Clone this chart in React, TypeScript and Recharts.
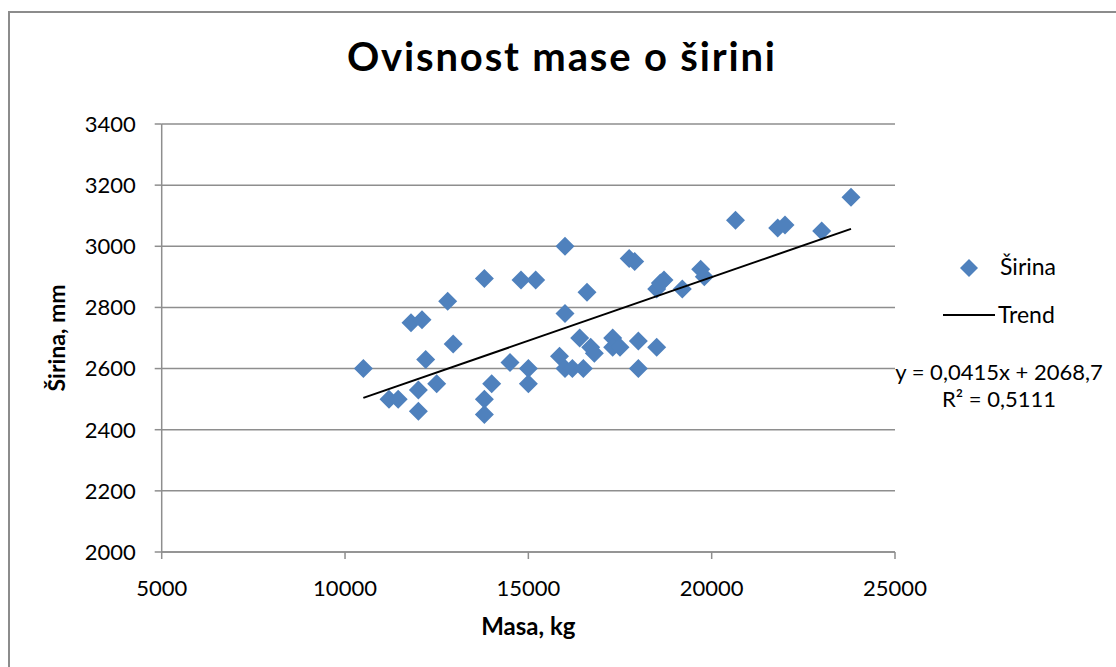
import { CartesianGrid, Label, Legend, Scatter, ScatterChart, XAxis, YAxis } from "recharts";

// Masa (kg) i širina (mm), očitano s grafa
const masa = [
  10500, 11200, 11450, 11800, 12100, 12200, 12000, 12000, 12500, 12800,
  12950, 13800, 13800, 13800, 14000, 14500, 14800, 15200, 15000, 15000,
  16000, 16000, 16600, 15850, 16000, 16200, 16500, 16400, 16700, 16800,
  17300, 17300, 17500, 17750, 17900, 18000, 18000, 18500, 18500, 18600,
  18700, 19200, 19700, 19800, 20650, 21800, 22000, 23000, 23800,
];
const sirina = [
  2600, 2500, 2500, 2750, 2760, 2630, 2530, 2460, 2550, 2820,
  2680, 2895, 2500, 2450, 2550, 2620, 2890, 2890, 2600, 2550,
  3000, 2780, 2850, 2640, 2600, 2600, 2600, 2700, 2670, 2650,
  2700, 2670, 2670, 2960, 2950, 2690, 2600, 2670, 2860, 2880,
  2890, 2860, 2925, 2900, 3085, 3060, 3070, 3050, 3160,
];

// krajnje točke linije trenda
const trendX = [10500, 23800];
const trendY = [2504, 3057];

const xTicks = [5000, 10000, 15000, 20000, 25000];
const yTicks = [2000, 2200, 2400, 2600, 2800, 3000, 3200, 3400];

const points = masa.map((x, i) => ({ x, y: sirina[i] }));
const trend = trendX.map((x, i) => ({ x, y: trendY[i] }));

const BLUE = "#4F81BD";
const FONT = "Lato, 'Open Sans', sans-serif";

function Diamond(props: any) {
  const { cx, cy } = props;
  if (cx == null || cy == null) return <g />;
  const r = 9.5;
  return <path d={`M${cx},${cy - r}L${cx + r},${cy}L${cx},${cy + r}L${cx - r},${cy}Z`} fill={BLUE} />;
}

function renderLegend() {
  return (
    <svg width={236} height={180} style={{ fontFamily: FONT, fontSize: 23 }}>
      <path d="M89,19L98,28L89,37L80,28Z" fill={BLUE} />
      <text x={120} y={35} fill="#000">Širina</text>
      <line x1={63} x2={115} y1={75} y2={75} stroke="#000" strokeWidth={2} />
      <text x={118} y={83} fill="#000">Trend</text>
      <text x={119} y={140} fontSize={22} textAnchor="middle" fill="#000">y = 0,0415x + 2068,7</text>
      <text x={119} y={167} fontSize={22} textAnchor="middle" fill="#000">R² = 0,5111</text>
    </svg>
  );
}

export default function App() {
  return (
    <div style={{ position: "absolute", left: 0, top: 0, width: 1116, height: 667, overflow: "hidden", background: "#fff", fontFamily: FONT }}>
      <div style={{ position: "absolute", left: 8, top: 11, width: 1200, height: 800, border: "2px solid #8c8c8c" }} />
      <ScatterChart width={1116} height={667} margin={{ top: 124, right: 221, bottom: 0, left: 0 }}>
        <CartesianGrid vertical={false} stroke="#8e8e8e" strokeWidth={1.5} />
        <XAxis
          type="number"
          dataKey="x"
          domain={[5000, 25000]}
          ticks={xTicks}
          height={115}
          tickSize={7}
          tickMargin={21}
          stroke="#8e8e8e"
          strokeWidth={1.5}
          tick={{ fill: "#000", fontSize: 22, fontFamily: FONT }}
        >
          <Label
            content={({ viewBox }: any) => (
              <text x={viewBox.x + viewBox.width / 2} y={viewBox.y + 83} textAnchor="middle" fontWeight="bold" fontSize={24} fontFamily={FONT} fill="#000">
                Masa, kg
              </text>
            )}
          />
        </XAxis>
        <YAxis
          type="number"
          dataKey="y"
          domain={[2000, 3400]}
          ticks={yTicks}
          width={161.7}
          tickSize={7}
          tickMargin={19}
          stroke="#8e8e8e"
          strokeWidth={1.5}
          tick={{ fill: "#000", fontSize: 22, fontFamily: FONT }}
        >
          <Label
            content={({ viewBox }: any) => {
              const cx = viewBox.x + 57;
              const cy = viewBox.y + viewBox.height / 2;
              return (
                <text x={cx} y={cy} transform={`rotate(-90 ${cx} ${cy})`} dy={8} textAnchor="middle" fontWeight="bold" fontSize={23} fontFamily={FONT} fill="#000">
                  Širina, mm
                </text>
              );
            }}
          />
        </YAxis>
        <Legend content={renderLegend} verticalAlign="middle" wrapperStyle={{ left: 880, top: 240, width: 236, height: 180 }} />
        <Scatter name="Širina" data={points} shape={Diamond} isAnimationActive={false} />
        <Scatter
          name="Trend"
          data={trend}
          line={{ stroke: "#000", strokeWidth: 2 }}
          shape={() => <g />}
          isAnimationActive={false}
        />
      </ScatterChart>
      <svg width={1116} height={110} style={{ position: "absolute", left: 0, top: 0, pointerEvents: "none" }}>
        <text x={561} y={71} textAnchor="middle" fontWeight="bold" fontSize={40} textLength={428} fontFamily={FONT} fill="#000">
          Ovisnost mase o širini
        </text>
      </svg>
    </div>
  );
}
